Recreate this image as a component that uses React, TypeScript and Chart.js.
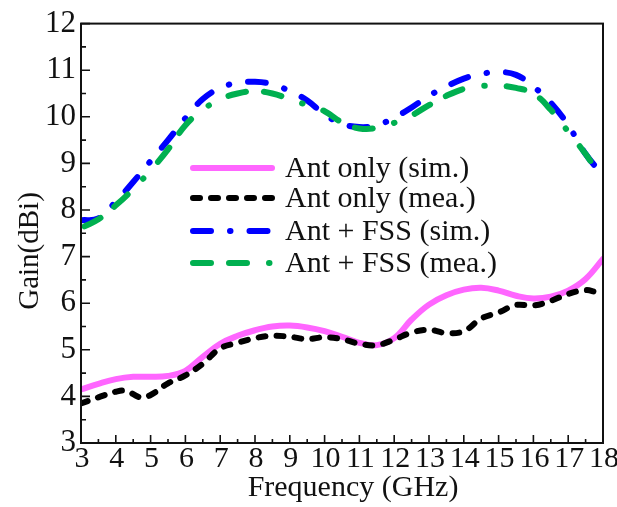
import React, { useEffect, useRef } from "react";
import { Chart, registerables } from "chart.js";

Chart.register(...registerables);

const xTicks = [3, 4, 5, 6, 7, 8, 9, 10, 11, 12, 13, 14, 15, 16, 17, 18];
const yTicks = [3, 4, 5, 6, 7, 8, 9, 10, 11, 12];

const seriesLabels = ["Ant only (sim.)", "Ant only (mea.)", "Ant + FSS (sim.)", "Ant + FSS (mea.)"];
const xTitle = "Frequency (GHz)";
const yTitle = "Gain(dBi)";

const freqSim = [3, 3.5, 4, 4.5, 5, 5.5, 6, 6.5, 7, 7.5, 8, 8.5, 9, 9.5, 10, 10.5, 11, 11.5, 12, 12.5, 13, 13.5, 14, 14.5, 15, 15.5, 16, 16.5, 17, 17.5, 18];
const antOnlySim = [4.15, 4.27, 4.37, 4.42, 4.42, 4.44, 4.55, 4.85, 5.13, 5.3, 5.42, 5.5, 5.52, 5.48, 5.4, 5.28, 5.15, 5.1, 5.25, 5.65, 5.97, 6.17, 6.29, 6.33, 6.27, 6.16, 6.1, 6.14, 6.27, 6.52, 6.95];

const freqAntMea = [3, 3.5, 4, 4.3, 4.7, 5, 5.5, 6, 6.5, 7, 7.5, 8, 8.5, 9, 9.5, 10, 10.5, 11, 11.5, 12, 12.5, 13, 13.5, 14, 14.5, 15, 15.5, 16, 16.5, 17, 17.5, 17.8];
const antOnlyMea = [3.85, 3.98, 4.1, 4.12, 3.98, 4.03, 4.28, 4.45, 4.7, 5.03, 5.15, 5.25, 5.3, 5.28, 5.23, 5.27, 5.23, 5.13, 5.1, 5.22, 5.37, 5.43, 5.36, 5.4, 5.67, 5.8, 5.96, 5.95, 6.05, 6.2, 6.28, 6.24];

const fssSim = [7.78, 7.82, 8.18, 8.6, 9.05, 9.5, 9.97, 10.38, 10.62, 10.73, 10.75, 10.7, 10.55, 10.35, 10.05, 9.85, 9.78, 9.82, 9.98, 10.2, 10.45, 10.65, 10.82, 10.92, 10.96, 10.9, 10.65, 10.3, 9.82, 9.2, 8.75];

const freqFssMea = [3.1, 3.5, 4, 4.5, 5, 5.5, 6, 6.5, 7, 7.5, 8, 8.5, 9, 9.5, 10, 10.5, 11, 11.5, 12, 12.5, 13, 13.5, 14, 14.5, 15, 15.5, 16, 16.5, 17, 17.5, 17.9];
const fssMea = [7.65, 7.8, 8.1, 8.45, 8.85, 9.3, 9.82, 10.15, 10.38, 10.5, 10.55, 10.5, 10.38, 10.25, 10.12, 9.88, 9.75, 9.76, 9.87, 10.03, 10.25, 10.45, 10.6, 10.66, 10.67, 10.62, 10.5, 10.15, 9.68, 9.2, 8.75];

const pts = (xs: number[], ys: number[]) => xs.map((x, i) => ({ x, y: ys[i] }));

const FONT = "'Liberation Serif', 'Times New Roman', serif";

const decorPlugin = {
  id: "decor",
  afterDraw(chart: any) {
    const { ctx, chartArea: a, scales } = chart;
    const xs = scales.x;
    const ys = scales.y;
    ctx.save();
    ctx.strokeStyle = "#111";
    ctx.lineWidth = 2;
    ctx.strokeRect(a.left, a.top, a.right - a.left, a.bottom - a.top);
    ctx.lineWidth = 1.6;
    ctx.beginPath();
    xTicks.forEach((v, i) => {
      const px = xs.getPixelForValue(v);
      ctx.moveTo(px, a.bottom);
      ctx.lineTo(px, a.bottom - 8);
      if (i < xTicks.length - 1) {
        const pm = xs.getPixelForValue((v + xTicks[i + 1]) / 2);
        ctx.moveTo(pm, a.bottom);
        ctx.lineTo(pm, a.bottom - 4);
      }
    });
    yTicks.forEach((v, i) => {
      const py = ys.getPixelForValue(v);
      ctx.moveTo(a.left, py);
      ctx.lineTo(a.left + 9, py);
      if (i < yTicks.length - 1) {
        const pm = ys.getPixelForValue((v + yTicks[i + 1]) / 2);
        ctx.moveTo(a.left, pm);
        ctx.lineTo(a.left + 5, pm);
      }
    });
    ctx.stroke();

    // legend
    const rows = [168, 198, 231, 263];
    chart.data.datasets.forEach((ds: any, i: number) => {
      const y = rows[i];
      ctx.save();
      ctx.strokeStyle = ds.borderColor;
      ctx.lineWidth = 6;
      ctx.lineCap = "round";
      ctx.setLineDash(ds.borderDash || []);
      ctx.beginPath();
      ctx.moveTo(193, y);
      ctx.lineTo(272, y);
      ctx.stroke();
      ctx.restore();
      ctx.fillStyle = "#111";
      ctx.font = `30px ${FONT}`;
      ctx.textAlign = "left";
      ctx.textBaseline = "middle";
      ctx.fillText(ds.label, 285, y + 1);
    });

    // axis titles
    ctx.fillStyle = "#111";
    ctx.font = `30px ${FONT}`;
    ctx.textAlign = "center";
    ctx.textBaseline = "middle";
    ctx.fillText(xTitle, 353, 488);
    ctx.save();
    ctx.translate(30, 251);
    ctx.rotate(-Math.PI / 2);
    ctx.font = `29px ${FONT}`;
    ctx.fillText(yTitle, 0, 0);
    ctx.restore();
    ctx.restore();
  },
};

export default function App() {
  const ref = useRef<HTMLCanvasElement>(null);
  useEffect(() => {
    if (!ref.current) return;
    const chart = new Chart(ref.current, {
      type: "line",
      data: {
        datasets: [
          {
            label: seriesLabels[0],
            data: pts(freqSim, antOnlySim),
            borderColor: "#FF66FF",
            borderWidth: 6,
            borderCapStyle: "round",
            tension: 0.4,
            pointRadius: 0,
            order: 4,
          },
          {
            label: seriesLabels[1],
            data: pts(freqAntMea, antOnlyMea),
            borderColor: "#000000",
            borderWidth: 6,
            borderDash: [7, 11],
            borderCapStyle: "round",
            tension: 0.4,
            pointRadius: 0,
            order: 3,
          },
          {
            label: seriesLabels[2],
            data: pts(freqSim, fssSim),
            borderColor: "#0000FF",
            borderWidth: 6,
            borderDash: [18, 19, 0.5, 19],
            borderCapStyle: "round",
            tension: 0.4,
            pointRadius: 0,
            order: 2,
          },
          {
            label: seriesLabels[3],
            data: pts(freqFssMea, fssMea),
            borderColor: "#00B050",
            borderWidth: 6,
            borderDash: [18, 18, 18, 22, 0.5, 22],
            borderCapStyle: "round",
            tension: 0.4,
            pointRadius: 0,
            order: 1,
          },
        ] as any,
      },
      options: {
        animation: false,
        responsive: false,
        layout: { padding: { left: 0, right: 14, top: 22, bottom: 0 } },
        plugins: { legend: { display: false }, tooltip: { enabled: false } },
        scales: {
          x: {
            type: "linear",
            min: 3,
            max: 18,
            grid: { display: false, drawTicks: false },
            border: { display: false },
            afterBuildTicks: (s: any) => {
              s.ticks = xTicks.map((v) => ({ value: v }));
            },
            afterFit: (s: any) => {
              s.height = 64;
              s.paddingLeft = 0;
              s.paddingRight = 0;
            },
            ticks: {
              autoSkip: false,
              maxRotation: 0,
              padding: 3,
              labelOffset: 1,
              color: "#111",
              font: { family: FONT, size: 30, lineHeight: 0.9 },
            },
          },
          y: {
            type: "linear",
            min: 3,
            max: 12,
            grid: { display: false, drawTicks: false },
            border: { display: false },
            afterBuildTicks: (s: any) => {
              s.ticks = yTicks.map((v) => ({ value: v }));
            },
            afterFit: (s: any) => {
              s.width = 81;
            },
            ticks: {
              padding: 5,
              color: "#111",
              font: { family: FONT, size: 31 },
            },
          },
        },
      },
      plugins: [decorPlugin],
    } as any);
    return () => chart.destroy();
  }, []);
  return (
    <div style={{ position: "fixed", left: 0, top: 0, width: 617, height: 507, background: "#fff" }}>
      <canvas ref={ref} width={617} height={507} style={{ width: 617, height: 507, display: "block" }} />
    </div>
  );
}
